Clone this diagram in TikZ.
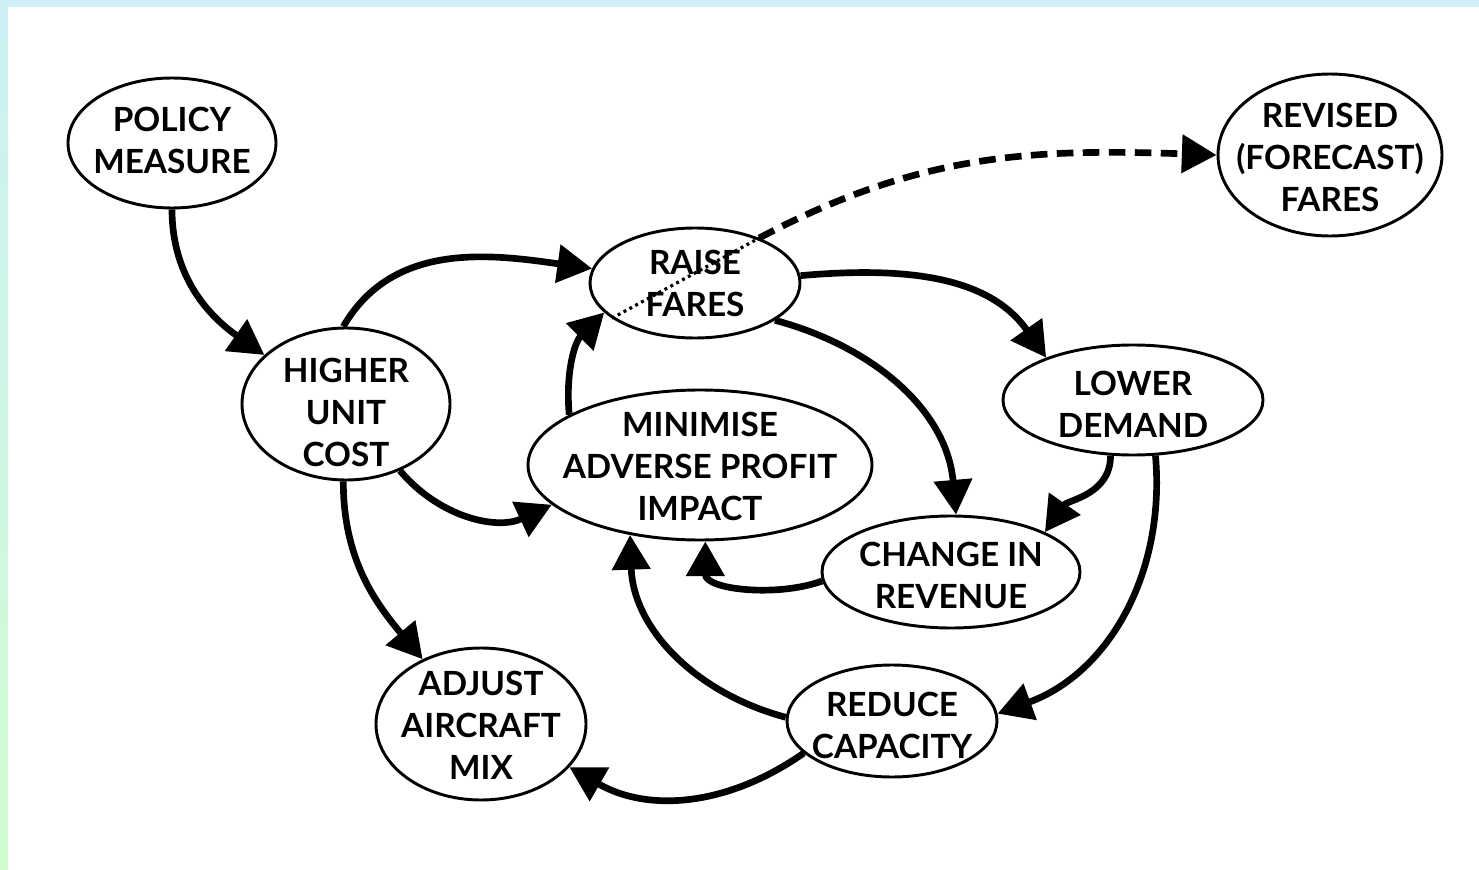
\documentclass[tikz,border=0pt]{standalone}
\usepackage{fontspec}
\setmainfont{Lato}
\usetikzlibrary{shapes.geometric,arrows.meta}
\definecolor{bgcyan}{RGB}{204,240,245}
\definecolor{bggreen}{RGB}{208,252,208}
\tikzset{
  lbl/.style={font=\bfseries\fontsize{25}{31.5}\selectfont,align=center,inner sep=0pt},
  el/.style n args={4}{ellipse,draw,line width=2.2pt,inner sep=0pt,
    minimum width=#1*1.5pt,minimum height=#2*1.5pt,
    label={[lbl,yshift=#3*-0.75pt]center:#4}},
  link/.style={line width=5pt,-{Triangle[length=26pt,width=28pt]}},
  dashlink/.style={line width=5pt,dash pattern=on 12.5pt off 7pt,-{Triangle[length=26pt,width=28pt]}},
  dotlink/.style={line width=2.4pt,dash pattern=on 2.2pt off 2.8pt}
}
\begin{document}
\begin{tikzpicture}[x=0.75pt,y=-0.75pt]
\useasboundingbox (0,0) rectangle (1479,870);
\fill[white] (0,0) rectangle (1479,870);
\shade[top color=bgcyan,bottom color=bggreen] (0,0) rectangle (8,870);
\fill[bgcyan] (0,0) rectangle (1479,7);

\node[el={104}{65}{-3}{POLICY\\MEASURE}] (policy) at (172,143) {};
\node[el={112}{81}{2}{REVISED\\(FORECAST)\\FARES}] (revised) at (1330,155) {};
\node[el={105}{55}{0}{RAISE\\FARES}] (raise) at (695,283) {};
\node[el={104}{76}{8}{HIGHER\\UNIT\\COST}] (higher) at (346,404) {};
\node[el={172}{75}{1}{MINIMISE\\ADVERSE PROFIT\\IMPACT}] (minimise) at (700,465) {};
\node[el={130}{55}{4}{LOWER\\DEMAND}] (lower) at (1133,400) {};
\node[el={129}{56}{3}{CHANGE IN\\REVENUE}] (change) at (951,572) {};
\node[el={105}{76}{1}{ADJUST\\AIRCRAFT\\MIX}] (adjust) at (481,724) {};
\node[el={105}{56}{4}{REDUCE\\CAPACITY}] (reduce) at (892,721) {};

\draw[link] (policy.-90) to[out=-90,in=145] (higher.149);
\draw[link] (higher.92) to[out=60,in=172] (raise.172);
\draw[link] (higher.-51) to[out=-50,in=205] (minimise.-165);
\draw[link] (higher.-92) to[out=-90,in=130] (adjust.132);
\draw[link] (minimise.159) to[out=95,in=225] (raise.198);
\draw[link] (raise.4) to[out=5,in=125] (lower.154);
\draw[link] (raise.-25) to[out=-15,in=95] (change.85);
\draw[link] (lower.-112) to[out=-90,in=55] (change.23);
\draw[link] (lower.-68) to[out=-85,in=20] (reduce.4);
\draw[link] (change.184) to[out=200,in=-90] (minimise.-86);
\draw[link] (reduce.178) to[out=165,in=-88] (minimise.225);
\draw[link] (reduce.200) to[out=215,in=-30] (adjust.-26);
\draw[dotlink] (raise.203) -- (raise.35);
\draw[dashlink] (raise.35) to[out=28,in=178] (revised.180);
\end{tikzpicture}
\end{document}
